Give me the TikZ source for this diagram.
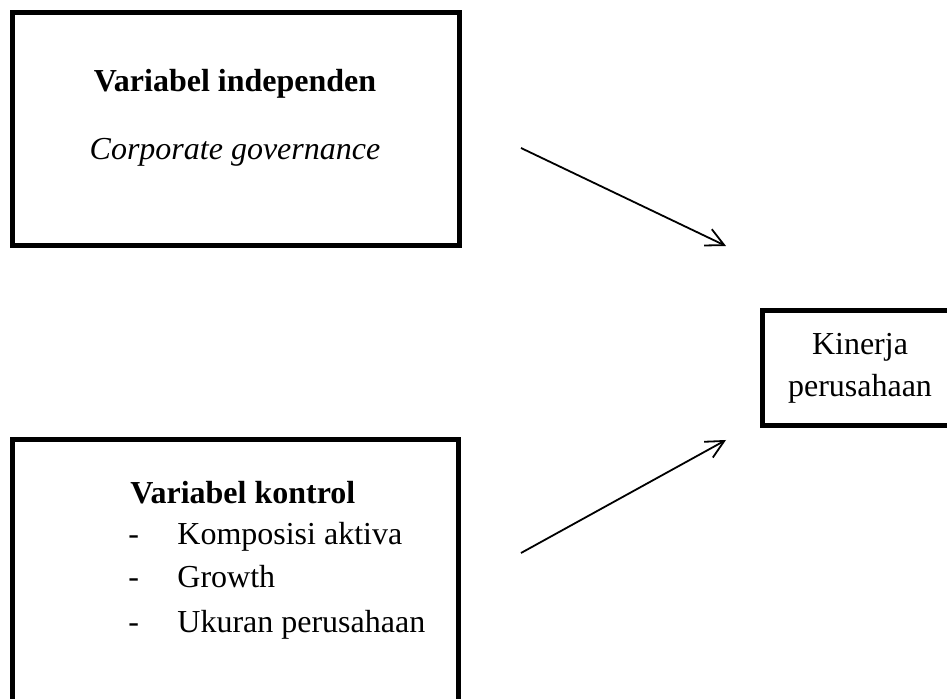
\documentclass[tikz,border=0pt]{standalone}
\usepackage{fontspec}
\setmainfont{Liberation Serif}
\usetikzlibrary{positioning, arrows.meta}

\tikzset{
    varbox/.style={draw, line width=2.5pt, inner sep=0pt},
    txt/.style={inner sep=0pt, anchor=base},
    link/.style={-{Straight Barb[length=9pt, width=9pt]}, line width=0.9pt}
}

\begin{document}
\begin{tikzpicture}[x=0.5pt, y=-0.5pt, every node/.style={font=\fontsize{16}{21}\selectfont}]
    \useasboundingbox (0,0) rectangle (947,699);
    \clip (0,0) rectangle (947,699);
    % boxes
    \node (Indep) [varbox, minimum width=223.5pt, minimum height=116.5pt] at (236,129) {};
    \node (Kontrol) [varbox, minimum width=223pt, minimum height=160.25pt] at (235.5,599.75) {};
    \node (Kinerja) [varbox, align=center, minimum width=97.5pt, minimum height=57.5pt] at (860,368) {Kinerja\\perusahaan};
    % texts
    \node (IndepTitle) [txt, font=\fontsize{16}{21}\selectfont\bfseries] at (235,92) {Variabel independen};
    \node (IndepName) [txt, font=\fontsize{16}{21}\selectfont\itshape] at (235,160) {Corporate governance};
    \node (KontrolTitle) [txt, anchor=base west, font=\fontsize{16}{21}\selectfont\bfseries] at (130,503) {Variabel kontrol};
    \foreach \y/\t [count=\i] in {545/Komposisi aktiva, 587/Growth, 632/Ukuran perusahaan} {
        \node (dash\i) [txt, anchor=base west] at (128,\y) {-};
        \node (item\i) [txt, anchor=base west] at (177,\y) {\t};
    }
    % arrows
    \coordinate (IndepOut) at (521,148);
    \coordinate (IndepIn) at (726,246);
    \coordinate (KontrolOut) at (521,553);
    \coordinate (KontrolIn) at (726,440);
    \draw [link] (IndepOut) -- (IndepIn);
    \draw [link] (KontrolOut) -- (KontrolIn);
\end{tikzpicture}
\end{document}
